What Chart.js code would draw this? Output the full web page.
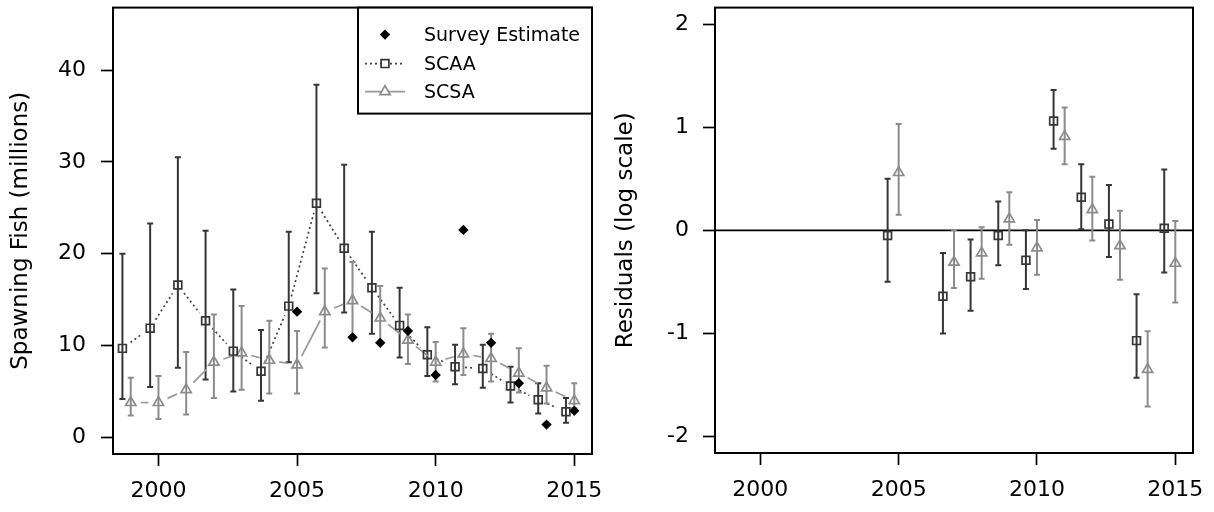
<!DOCTYPE html>
<html><head><meta charset="utf-8">
<script src="https://cdn.jsdelivr.net/npm/chart.js@4.4.1/dist/chart.umd.min.js"></script>
<style>
html,body{margin:0;padding:0;background:#fff;}
#wrap{position:relative;width:1214px;height:512px;background:#fff;}
#c1{position:absolute;left:0;top:0;}
#c2{position:absolute;left:607px;top:0;}
</style></head><body>
<div id="wrap"><canvas id="c1" width="607" height="512"></canvas><canvas id="c2" width="607" height="512"></canvas></div>
<script>
// ---------- data ----------
const years = [1999,2000,2001,2002,2003,2004,2005,2006,2007,2008,2009,2010,2011,2012,2013,2014,2015];
const scaaEst   = [9.7,11.9,16.6,12.7,9.4,7.2,14.3,25.5,20.6,16.3,12.2,9.0,7.7,7.5,5.6,4.1,2.8];
const scaaUpper = [20.0,23.3,30.5,22.5,16.1,11.7,22.4,38.4,29.7,22.4,16.3,12.0,10.1,10.1,7.7,5.9,4.3];
const scaaLower = [4.2,5.5,7.6,6.3,5.0,4.0,8.2,15.7,13.6,11.3,8.7,6.7,5.8,5.4,3.8,2.6,1.6];
const scsaEst   = [3.8,3.8,5.2,8.2,9.2,8.4,7.9,13.7,14.9,13.0,10.6,8.2,9.1,8.6,7.0,5.4,4.0];
const scsaUpper = [6.5,6.7,9.3,13.4,14.3,12.7,11.6,18.4,19.1,16.5,13.4,10.4,11.9,11.3,9.7,7.8,5.9];
const scsaLower = [2.4,2.0,2.5,4.3,5.2,4.8,4.8,9.8,10.9,10.2,8.0,6.1,6.8,6.1,4.9,3.7,3.2];
const surveyYears = [2005,2007,2008,2009,2010,2011,2012,2013,2014,2015];
const surveyEst   = [13.7,10.9,10.3,11.6,6.8,22.6,10.3,5.9,1.4,2.9];
const residScaa      = [-0.05,-0.64,-0.45,-0.05,-0.29,1.06,0.32,0.06,-1.07,0.02];
const residScaaUpper = [0.50,-0.22,-0.09,0.28,0.00,1.36,0.64,0.44,-0.62,0.59];
const residScaaLower = [-0.50,-1.00,-0.78,-0.34,-0.57,0.79,0.01,-0.26,-1.43,-0.41];
const residScsa      = [0.56,-0.31,-0.22,0.11,-0.17,0.91,0.20,-0.15,-1.35,-0.32];
const residScsaUpper = [1.03,0.00,0.03,0.37,0.10,1.19,0.52,0.19,-0.98,0.09];
const residScsaLower = [0.15,-0.56,-0.47,-0.14,-0.43,0.64,-0.10,-0.48,-1.71,-0.70];
const xTicks = [2000,2005,2010,2015];
const yTicksLeft = [0,10,20,30,40];
const yTicksRight = [-2,-1,0,1,2];
const legendLabels = ['Survey Estimate','SCAA','SCSA'];

// ---------- style ----------
const FONT = "'DejaVu Sans', sans-serif";
const TICK_SIZE = 22, TITLE_SIZE = 23, LEGEND_SIZE = 19;
const DARK = '#363636', GREY = '#8c8c8c';
const X_MIN = 1999 - 0.04*16, X_MAX = 2015 + 0.04*16;

const styleScaa = {pointStyle:'rect', pointRadius:5.5, borderColor:DARK, backgroundColor:'rgba(0,0,0,0)', pointBorderWidth:1.7,
  gapLine:{color:'#444', width:1.7, dash:[2,3], gap:10}, err:{color:DARK, width:2, cap:3}};
const styleScsa = {pointStyle:'triangle', pointRadius:5.9, borderColor:GREY, backgroundColor:'rgba(0,0,0,0)', pointBorderWidth:1.7,
  gapLine:{color:'#999', width:1.7, dash:[], gap:10}, err:{color:GREY, width:2, cap:3}};
const styleSurvey = {pointStyle:'rectRot', pointRadius:5.2, borderColor:'#000', backgroundColor:'#000', pointBorderWidth:0};

function pts(xs, ys, shift){ return xs.map((v,i)=>({x:v+shift, y:ys[i]})); }

function marker(ctx, style, r, x, y){
  ctx.beginPath();
  if (style==='rect'){ const s=Math.SQRT1_2*r; ctx.rect(x-s,y-s,2*s,2*s); }
  else if (style==='triangle'){ ctx.moveTo(x, y-r); ctx.lineTo(x+0.866*r, y+r/2); ctx.lineTo(x-0.866*r, y+r/2); ctx.closePath(); }
  else { ctx.moveTo(x-r,y); ctx.lineTo(x,y-r); ctx.lineTo(x+r,y); ctx.lineTo(x,y+r); ctx.closePath(); }
}

const rPlugin = {
  id:'rstyle',
  beforeDatasetsDraw(chart){
    const {ctx, chartArea:a, scales:{x,y}} = chart;
    const o = chart.options.plugins.rstyle || {};
    ctx.save();
    if (o.zeroLine){
      const py = y.getPixelForValue(0);
      ctx.strokeStyle='#000'; ctx.lineWidth=1.7; ctx.beginPath();
      ctx.moveTo(a.left,py); ctx.lineTo(a.right,py); ctx.stroke();
    }
    chart.data.datasets.forEach(ds=>{
      const d = ds.data;
      if (ds.gapLine){
        const g = ds.gapLine;
        ctx.strokeStyle=g.color; ctx.lineWidth=g.width; ctx.setLineDash(g.dash);
        for (let k=0;k<d.length-1;k++){
          const x0=x.getPixelForValue(d[k].x), y0=y.getPixelForValue(d[k].y);
          const x1=x.getPixelForValue(d[k+1].x), y1=y.getPixelForValue(d[k+1].y);
          const L=Math.hypot(x1-x0,y1-y0);
          if (L<=2*g.gap) continue;
          const ux=(x1-x0)/L, uy=(y1-y0)/L;
          ctx.beginPath(); ctx.moveTo(x0+ux*g.gap,y0+uy*g.gap); ctx.lineTo(x1-ux*g.gap,y1-uy*g.gap); ctx.stroke();
        }
        ctx.setLineDash([]);
      }
      if (ds.lo && ds.err){
        const e = ds.err;
        ctx.strokeStyle=e.color; ctx.lineWidth=e.width;
        d.forEach((p,k)=>{
          const px=x.getPixelForValue(p.x), pl=y.getPixelForValue(ds.lo[k]), ph=y.getPixelForValue(ds.hi[k]);
          ctx.beginPath();
          ctx.moveTo(px,pl); ctx.lineTo(px,ph);
          ctx.moveTo(px-e.cap,pl); ctx.lineTo(px+e.cap,pl);
          ctx.moveTo(px-e.cap,ph); ctx.lineTo(px+e.cap,ph);
          ctx.stroke();
        });
      }
    });
    ctx.restore();
  },
  afterDraw(chart){
    const {ctx, chartArea:a} = chart;
    const o = chart.options.plugins.rstyle || {};
    ctx.save();
    ctx.strokeStyle='#000'; ctx.lineWidth=2;
    ctx.strokeRect(a.left,a.top,a.right-a.left,a.bottom-a.top);
    if (o.legend){
      const L = o.legend;
      const bx=a.right-L.w, by=a.top;
      ctx.fillStyle='#fff'; ctx.fillRect(bx,by,L.w,L.h);
      ctx.strokeStyle='#000'; ctx.lineWidth=2; ctx.strokeRect(bx,by,L.w,L.h);
      const ds = chart.data.datasets;
      [0,1,2].forEach((i,row)=>{
        const s = ds[i]; const cy = by + L.rows[row];
        const sx = a.right - L.sym;
        if (s.gapLine){
          ctx.strokeStyle=s.gapLine.color; ctx.lineWidth=s.gapLine.width; ctx.setLineDash(s.gapLine.dash);
          ctx.beginPath(); ctx.moveTo(sx-L.half,cy); ctx.lineTo(sx+L.half,cy); ctx.stroke(); ctx.setLineDash([]);
        }
        marker(ctx, s.pointStyle, s.pointRadius, sx, cy);
        if (s.pointBorderWidth>0){ ctx.fillStyle='#fff'; ctx.fill(); ctx.strokeStyle=s.borderColor; ctx.lineWidth=s.pointBorderWidth; ctx.stroke(); }
        else { ctx.fillStyle=s.backgroundColor; ctx.fill(); }
        ctx.fillStyle='#000'; ctx.font = LEGEND_SIZE+'px '+FONT; ctx.textBaseline='middle'; ctx.textAlign='left';
        ctx.fillText(legendLabels[row], a.right - L.text, cy+1);
      });
    }
    ctx.restore();
  }
};

function xScale(h){
  return { type:'linear', min:X_MIN, max:X_MAX, bounds:'data',
    afterBuildTicks:s=>{ s.ticks = xTicks.map(v=>({value:v})); },
    afterFit:s=>{ s.height=h; s.paddingLeft=0; s.paddingRight=0; },
    grid:{drawOnChartArea:false, drawTicks:true, tickLength:12, tickColor:'#000', tickWidth:1.7},
    border:{display:false},
    ticks:{color:'#000', font:{family:FONT,size:TICK_SIZE}, padding:12, maxRotation:0, autoSkip:false, callback:v=>String(v)} };
}
function yScale(min,max,ticks,w,title,tpad,lpad){
  return { type:'linear', min:min, max:max, bounds:'data',
    afterBuildTicks:s=>{ s.ticks = ticks.map(v=>({value:v})); },
    afterFit:s=>{ s.width=w; s.paddingTop=0; s.paddingBottom=0; },
    grid:{drawOnChartArea:false, drawTicks:true, tickLength:12, tickColor:'#000', tickWidth:1.7},
    border:{display:false},
    title:{display:true, text:title, color:'#000', font:{family:FONT,size:TITLE_SIZE}, padding:{top:tpad,bottom:0}},
    ticks:{color:'#000', font:{family:FONT,size:TICK_SIZE}, padding:lpad, autoSkip:false, callback:v=>String(v)} };
}
const common = { responsive:false, animation:false, events:[] };

new Chart(document.getElementById('c1'), {
  type:'scatter',
  data:{datasets:[
    Object.assign({label:legendLabels[0], data:pts(surveyYears, surveyEst, 0)}, styleSurvey),
    Object.assign({label:legendLabels[1], data:pts(years, scaaEst, -0.3), lo:scaaLower, hi:scaaUpper}, styleScaa),
    Object.assign({label:legendLabels[2], data:pts(years, scsaEst, 0), lo:scsaLower, hi:scsaUpper}, styleScsa)
  ]},
  options: Object.assign({}, common, {
    layout:{padding:{top:6,right:15,left:0,bottom:0}},
    plugins:{legend:{display:false}, tooltip:{enabled:false},
      rstyle:{legend:{w:234,h:106,rows:[27,56,84],sym:207,half:20,text:168}}},
    scales:{ x:xScale(58), y:yScale(-1.8,46.8,yTicksLeft,113,'Spawning Fish (millions)',7,15) }
  }),
  plugins:[rPlugin]
});

new Chart(document.getElementById('c2'), {
  type:'scatter',
  data:{datasets:[
    Object.assign({label:'SCAA', data:pts(surveyYears, residScaa, -0.4), lo:residScaaLower, hi:residScaaUpper}, styleScaa, {gapLine:null}),
    Object.assign({label:'SCSA', data:pts(surveyYears, residScsa, 0), lo:residScsaLower, hi:residScsaUpper}, styleScsa, {gapLine:null})
  ]},
  options: Object.assign({}, common, {
    layout:{padding:{top:6,right:21,left:0,bottom:0}},
    plugins:{legend:{display:false}, tooltip:{enabled:false}, rstyle:{zeroLine:true}},
    scales:{ x:xScale(59), y:yScale(-2.16,2.16,yTicksRight,108,'Residuals (log scale)',5,14) }
  }),
  plugins:[rPlugin]
});
</script>
</body></html>
